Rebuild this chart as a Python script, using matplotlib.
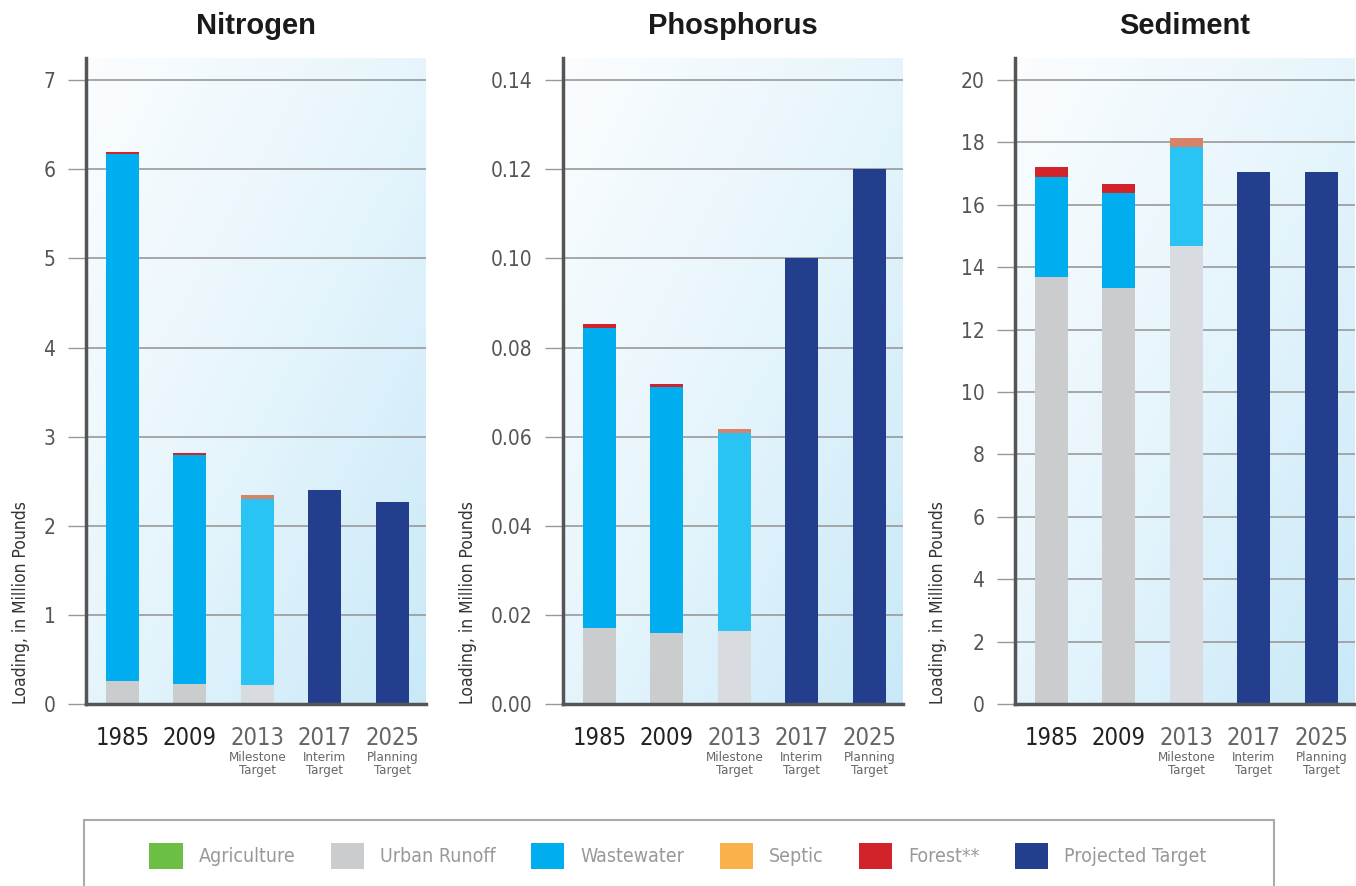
import numpy as np
import matplotlib
matplotlib.use("Agg")
import matplotlib.pyplot as plt
from matplotlib.patches import Patch, Rectangle
from matplotlib.colors import LinearSegmentedColormap
from matplotlib import font_manager

# ---- data (million pounds, segment heights) ----
years = ["1985", "2009", "2013", "2017", "2025"]
sublabels = ["", "", "Milestone\nTarget", "Interim\nTarget", "Planning\nTarget"]

n_agriculture = [0, 0, 0, 0, 0]
n_urban = [0.26, 0.22, 0.21, 0, 0]
n_wastewater = [5.91, 2.57, 2.09, 0, 0]
n_septic = [0, 0, 0.05, 0, 0]
n_forest = [0.02, 0.03, 0, 0, 0]
n_target = [0, 0, 0, 2.40, 2.27]

p_agriculture = [0, 0, 0, 0, 0]
p_urban = [0.0170, 0.0160, 0.0164, 0, 0]
p_wastewater = [0.0674, 0.0551, 0.0444, 0, 0]
p_septic = [0, 0, 0.0009, 0, 0]
p_forest = [0.0009, 0.0007, 0, 0, 0]
p_target = [0, 0, 0, 0.100, 0.120]

s_agriculture = [0, 0, 0, 0, 0]
s_urban = [13.69, 13.33, 14.68, 0, 0]
s_wastewater = [3.20, 3.05, 3.17, 0, 0]
s_septic = [0, 0, 0.29, 0, 0]
s_forest = [0.32, 0.29, 0, 0, 0]
s_target = [0, 0, 0, 17.05, 17.05]

legend_labels = ["Agriculture", "Urban Runoff", "Wastewater", "Septic", "Forest**", "Projected Target"]
legend_colors = ["#6dbe45", "#cbcccd", "#00aeef", "#fbb04c", "#d2232a", "#243e8e"]

# 2013 milestone bar drawn in lighter tones
milestone_colors = ["#6dbe45", "#d8dce0", "#29c4f3", "#d9826a", "#d2232a", "#243e8e"]

# ---- fonts ----
names = {f.name for f in font_manager.fontManager.ttflist}
NARROW = "Liberation Sans Narrow" if "Liberation Sans Narrow" in names else "DejaVu Sans"
NSTRETCH = "normal" if NARROW == "Liberation Sans Narrow" else "condensed"

fig = plt.figure(figsize=(13.56, 8.86), dpi=100)

bg_cmap = LinearSegmentedColormap.from_list("bg", ["#fbfdff", "#e6f5fc", "#c9e9f8"])
gx, gy = np.meshgrid(np.linspace(0, 1, 200), np.linspace(1, 0, 200))
grad = (gx * 0.5 + (1 - gy) * 0.5)

panels = [
    ("Nitrogen", 86, 7.25, np.arange(0, 8, 1), "{:.0f}",
     [n_agriculture, n_urban, n_wastewater, n_septic, n_forest, n_target]),
    ("Phosphorus", 563, 0.145, np.arange(0, 0.141, 0.02), "{:.2f}",
     [p_agriculture, p_urban, p_wastewater, p_septic, p_forest, p_target]),
    ("Sediment", 1015, 20.7, np.arange(0, 21, 2), "{:.0f}",
     [s_agriculture, s_urban, s_wastewater, s_septic, s_forest, s_target]),
]

W, H = 1356, 886
for title, left_px, ymax, ticks, fmt, series in panels:
    ax = fig.add_axes([left_px / W, 1 - 704 / H, 340 / W, (704 - 58) / H])
    ax.imshow(grad, cmap=bg_cmap, extent=[0, 1, 0, 1], transform=ax.transAxes,
              aspect="auto", zorder=0, interpolation="bicubic")
    x = np.arange(len(years))
    bottom = np.zeros(len(years))
    for k, vals in enumerate(series):
        vals = np.array(vals, dtype=float)
        cols = [milestone_colors[k] if yr == "2013" else legend_colors[k] for yr in years]
        ax.bar(x, vals, 0.49, bottom=bottom, color=cols, zorder=3, linewidth=0)
        bottom += vals
    ax.set_xlim(-0.54, 4.5)
    ax.set_ylim(0, ymax)
    ax.set_yticks(ticks)
    ax.set_yticklabels([fmt.format(t) for t in ticks], fontsize=15, color="#555555",
                       family=NARROW, fontstretch=NSTRETCH)
    ax.tick_params(axis="y", length=13, width=1, color="#999999", pad=9)
    ax.set_xticks([])
    for t in ticks[1:]:
        ax.axhline(t, color="#999999", lw=1.2, zorder=1)
    for side in ["top", "right"]:
        ax.spines[side].set_visible(False)
    for side in ["left", "bottom"]:
        ax.spines[side].set_color("#555555")
        ax.spines[side].set_linewidth(2.5)
        ax.spines[side].set_zorder(5)
    ax.set_ylabel("Loading, in Million Pounds", fontsize=12.5, color="#333333",
                  family=NARROW, fontstretch=NSTRETCH, labelpad=10, loc="bottom")
    ax.set_title(title, fontsize=21, fontweight="bold", family="Liberation Sans",
                 color="#1a1a1a", pad=17)
    for i, (yr, sub) in enumerate(zip(years, sublabels)):
        c = "#222222" if sub == "" else "#666666"
        ax.text(i, -0.034, yr, transform=ax.get_xaxis_transform(), ha="center", va="top",
                fontsize=17, color=c, family=NARROW, fontstretch=NSTRETCH)
        if sub:
            ax.text(i, -0.073, sub, transform=ax.get_xaxis_transform(), ha="center", va="top",
                    fontsize=9.5, color="#666666", family=NARROW, fontstretch=NSTRETCH,
                    linespacing=1.0)

# legend box
fig.patches.append(Rectangle((84 / W, -0.02), (1274 - 84) / W, (886 - 820) / H + 0.02,
                             transform=fig.transFigure, facecolor="white",
                             edgecolor="#aaaaaa", lw=1.5, zorder=0))
handles = [Patch(facecolor=c, edgecolor="none") for c in legend_colors]
fig.legend(handles, legend_labels, loc="center", bbox_to_anchor=(0.5, 1 - 856 / H),
           ncol=6, frameon=False, handlelength=1.7, handleheight=1.7,
           handletextpad=0.85, columnspacing=1.8,
           prop={"family": NARROW, "size": 14, "stretch": NSTRETCH},
           labelcolor="#999999")

fig.savefig("out.png", dpi=100)
